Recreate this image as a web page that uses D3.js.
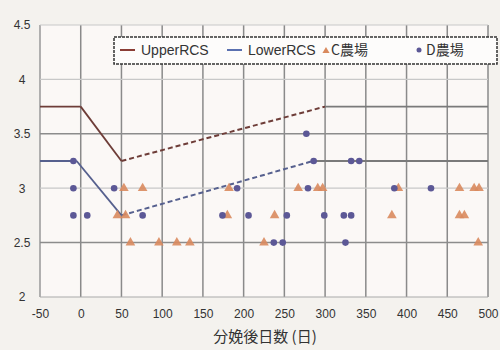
<!DOCTYPE html>
<html><head><meta charset="utf-8">
<script src="https://cdn.jsdelivr.net/npm/d3@7"></script>
<style>body{margin:0;background:#f4f2ee;}svg{display:block;}</style>
</head><body>
<script>
// ---- data ----
const xTicks = [-50,0,50,100,150,200,250,300,350,400,450,500];
const yTicks = [2,2.5,3,3.5,4,4.5];
const upperX = [-50,0,50,300,500];
const upperY = [3.75,3.75,3.25,3.75,3.75];
const lowerX = [-50,-5,50,285,500];
const lowerY = [3.25,3.25,2.75,3.25,3.25];
const cDays = [53,76,182,267,291,297,390,465,483,489, 45,55,180,238,382,465,471, 61,96,118,134,225,488];
const cVals = [3,3,3,3,3,3,3,3,3,3, 2.75,2.75,2.75,2.75,2.75,2.75,2.75, 2.5,2.5,2.5,2.5,2.5,2.5];
const dDays = [277, -9,286,332,342, -9,41,192,279,385,430, -9,8,76,174,206,253,299,323,332, 237,248,325];
const dVals = [3.5, 3.25,3.25,3.25,3.25, 3,3,3,3,3,3, 2.75,2.75,2.75,2.75,2.75,2.75,2.75,2.75,2.75, 2.5,2.5,2.5];
const legendLabels = ["UpperRCS","LowerRCS","C農場","D農場"];
const xTitle = "分娩後日数 (日)";

const W=500,H=350;
const svg=d3.select("body").append("svg").attr("width",W).attr("height",H);
const x=d3.scaleLinear().domain([-50,500]).range([40,488]);
const y=d3.scaleLinear().domain([2,4.5]).range([297,25]);
const font="'Liberation Sans', Arial, sans-serif";

svg.append("rect").attr("x",x(-50)).attr("y",y(4.5)).attr("width",x(500)-x(-50)).attr("height",y(2)-y(4.5)).attr("fill","#fbf8f6");

// grid
const g=svg.append("g");
g.selectAll(".vg").data(xTicks).join("line")
 .attr("x1",d=>x(d)).attr("x2",d=>x(d)).attr("y1",y(4.5)).attr("y2",y(2))
 .attr("stroke",d=>d===-50?"#999":"#8a8a8a").attr("stroke-width",1.5);
g.selectAll(".hg").data(yTicks).join("line")
 .attr("x1",x(-50)).attr("x2",x(500)).attr("y1",d=>y(d)).attr("y2",d=>y(d))
 .attr("stroke",d=>(d===3.5||d===2.5)?"#8c8c8c":(d===2?"#aaa":"#c8c8c8")).attr("stroke-width",d=>(d===3.5||d===2.5)?1.5:1.2);

// axes labels
const fmt=d=>String(d);
const xa=d3.axisBottom(x).tickValues(xTicks).tickSize(0).tickPadding(10).tickFormat(fmt);
const ya=d3.axisLeft(y).tickValues(yTicks).tickSize(0).tickPadding(0).tickFormat(fmt);
const gx=svg.append("g").attr("transform",`translate(0,${y(2)})`).call(xa);
gx.select(".domain").remove();
gx.selectAll("text").attr("font-family",font).attr("font-size",12).attr("fill","#333").attr("dy","0.9em");
const gy=svg.append("g").attr("transform",`translate(22,0)`).call(ya);
gy.select(".domain").remove();
gy.selectAll("text").attr("font-family",font).attr("font-size",12).attr("fill","#333").attr("text-anchor","middle").attr("dx",0);

svg.append("text").attr("x",265).attr("y",342).attr("text-anchor","middle")
 .attr("font-family","'Noto Sans CJK JP', sans-serif").attr("font-size",15).attr("fill","#333").text(xTitle);

// RCS lines
function drawSeries(xs,ys,color){
  const pts=xs.map((d,i)=>[x(d),y(ys[i])]);
  for(let i=0;i<pts.length-1;i++){
    const dashed=(i===2);
    svg.append("line").attr("x1",pts[i][0]).attr("y1",pts[i][1]).attr("x2",pts[i+1][0]).attr("y2",pts[i+1][1])
     .attr("stroke",i===3?"#7a7a7a":color).attr("stroke-width",dashed?2:1.8)
     .attr("stroke-dasharray",dashed?"5,3":null);
  }
}
drawSeries(upperX,upperY,"#6e3d38");
drawSeries(lowerX,lowerY,"#56608e");

// points
const tri=d3.symbol().type(d3.symbolTriangle).size(40);
svg.append("g").selectAll("path").data(cDays).join("path")
 .attr("d",tri).attr("transform",(d,i)=>`translate(${x(d)},${y(cVals[i])})`)
 .attr("fill","#d98a5e").attr("opacity",0.9);
svg.append("g").selectAll("circle").data(dDays).join("circle")
 .attr("cx",d=>x(d)).attr("cy",(d,i)=>y(dVals[i])).attr("r",3.3)
 .attr("fill","#5c5896");

// legend
const lg=svg.append("g");
lg.append("rect").attr("x",114).attr("y",37).attr("width",383).attr("height",27)
 .attr("fill","#fdfcfb").attr("stroke","#333").attr("stroke-width",1.5).attr("stroke-dasharray","3,1");
const lf="'Liberation Sans', Arial, sans-serif";
lg.append("line").attr("x1",120).attr("x2",135).attr("y1",50).attr("y2",50).attr("stroke","#8a3d35").attr("stroke-width",2);
lg.append("text").attr("x",141).attr("y",55).attr("font-family",lf).attr("font-size",14).attr("fill","#333").text(legendLabels[0]);
lg.append("line").attr("x1",227).attr("x2",242).attr("y1",50).attr("y2",50).attr("stroke","#5a70b0").attr("stroke-width",2);
lg.append("text").attr("x",248).attr("y",55).attr("font-family",lf).attr("font-size",14).attr("fill","#333").text(legendLabels[1]);
lg.append("path").attr("d",d3.symbol().type(d3.symbolTriangle).size(22)).attr("transform","translate(326,51)").attr("fill","#d98a5e");
lg.append("text").attr("x",331).attr("y",55).attr("font-family","'Noto Sans CJK JP', sans-serif").attr("font-size",14).attr("fill","#333").text(legendLabels[2]);
lg.append("circle").attr("cx",419).attr("cy",50).attr("r",2.5).attr("fill","#5c5896");
lg.append("text").attr("x",426).attr("y",55).attr("font-family","'Noto Sans CJK JP', sans-serif").attr("font-size",14).attr("fill","#333").text(legendLabels[3]);
</script>
</body></html>
